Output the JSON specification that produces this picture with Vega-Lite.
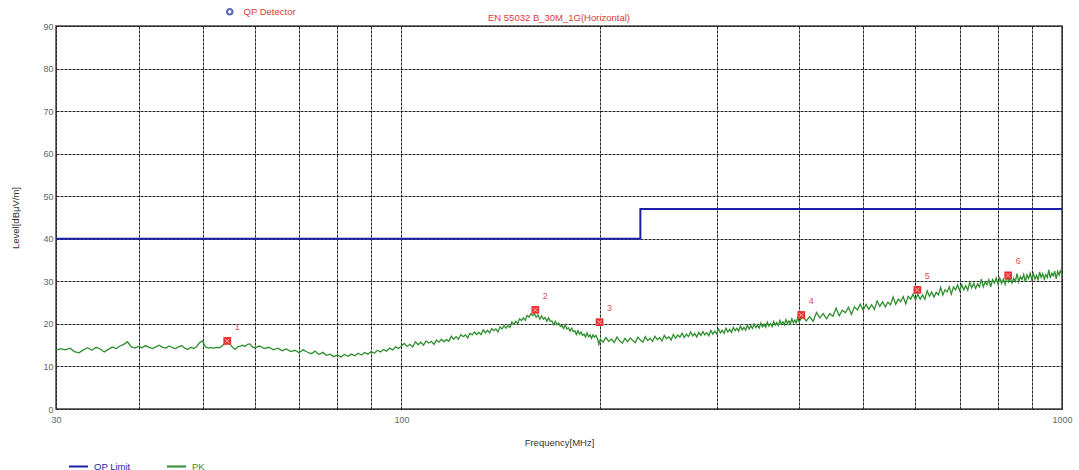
{
  "$schema": "https://vega.github.io/schema/vega-lite/v6.json",
  "width": 1006,
  "height": 383,
  "autosize": {"type": "none"},
  "padding": {"left": 56, "top": 26, "right": 17, "bottom": 61},
  "background": "white",
  "title": {"text": "EN 55032 B_30M_1G(Horizontal)", "fontSize": 9.5, "fontWeight": "normal", "color": "#d83a3a", "anchor": "middle", "offset": 2, "baseline": "bottom", "dy": 27, "font": "Liberation Sans"},
  "datasets": {
    "lim": [{"f": 30, "v": 40}, {"f": 230, "v": 47}, {"f": 1000, "v": 47}],
    "none": [],
    "mk": [
      {"f": 54.5, "v": 16.0, "n": "1"},
      {"f": 159.5, "v": 23.3, "n": "2"},
      {"f": 199.5, "v": 20.4, "n": "3"},
      {"f": 403, "v": 22.1, "n": "4"},
      {"f": 604, "v": 28.0, "n": "5"},
      {"f": 829, "v": 31.4, "n": "6"}
    ],
    "pk": [
      {"f":30,"v":13.8},{"f":30.5,"v":14.2},{"f":31,"v":13.9},{"f":31.5,"v":14.3},{"f":32,"v":13.5},{"f":32.5,"v":13.2},{"f":33,"v":13.9},{"f":33.5,"v":14.4},{"f":34,"v":13.8},{"f":34.5,"v":14.5},
      {"f":35,"v":14.1},{"f":35.5,"v":13.4},{"f":36,"v":14.0},{"f":36.5,"v":14.6},{"f":37,"v":14.2},{"f":37.5,"v":14.8},{"f":38,"v":15.2},{"f":38.5,"v":15.8},{"f":39,"v":14.6},{"f":39.5,"v":14.3},
      {"f":40,"v":14.7},{"f":40.5,"v":14.4},{"f":41,"v":14.9},{"f":41.5,"v":14.5},{"f":42,"v":14.2},{"f":42.5,"v":14.6},{"f":43,"v":15.0},{"f":43.5,"v":14.5},{"f":44,"v":14.3},{"f":44.5,"v":14.8},
      {"f":45,"v":14.4},{"f":45.5,"v":14.2},{"f":46,"v":14.6},{"f":46.5,"v":14.9},{"f":47,"v":14.3},{"f":47.5,"v":14.0},{"f":48,"v":14.5},{"f":48.5,"v":14.2},{"f":49,"v":14.7},{"f":49.5,"v":15.6},
      {"f":50,"v":16.0},{"f":50.5,"v":14.6},{"f":51,"v":14.3},{"f":51.5,"v":14.4},{"f":52,"v":14.3},{"f":52.5,"v":14.5},{"f":53,"v":14.4},{"f":53.5,"v":14.8},{"f":54,"v":15.4},{"f":54.5,"v":15.9},
      {"f":55,"v":15.3},{"f":55.5,"v":14.5},{"f":56,"v":14.0},{"f":56.5,"v":14.6},{"f":57,"v":14.8},{"f":57.5,"v":15.0},{"f":58,"v":14.7},{"f":58.5,"v":15.2},{"f":59,"v":15.3},{"f":59.5,"v":14.6},
      {"f":60,"v":14.4},{"f":61,"v":14.8},{"f":62,"v":14.2},{"f":63,"v":14.5},{"f":64,"v":13.9},{"f":65,"v":14.3},{"f":66,"v":13.7},{"f":67,"v":14.1},{"f":68,"v":13.5},{"f":69,"v":13.8},
      {"f":70,"v":13.2},{"f":71,"v":13.9},{"f":72,"v":13.4},{"f":73,"v":13.0},{"f":74,"v":13.6},{"f":75,"v":12.8},{"f":76,"v":13.3},{"f":77,"v":12.6},{"f":78,"v":12.9},{"f":79,"v":12.3},
      {"f":80,"v":12.7},{"f":81,"v":12.2},{"f":82,"v":12.8},{"f":83,"v":12.4},{"f":84,"v":12.9},{"f":85,"v":12.5},{"f":86,"v":13.1},{"f":87,"v":12.7},{"f":88,"v":13.3},{"f":89,"v":12.9},
      {"f":90,"v":13.5},{"f":91,"v":13.1},{"f":92,"v":13.8},{"f":93,"v":13.4},{"f":94,"v":14.0},{"f":95,"v":13.6},{"f":96,"v":14.3},{"f":97,"v":13.9},{"f":98,"v":14.6},{"f":99,"v":14.2},
      {"f":100,"v":14.8},{"f":101,"v":15.4},{"f":102,"v":14.7},{"f":103,"v":15.2},{"f":104,"v":14.6},{"f":105,"v":15.8},{"f":106,"v":15.1},{"f":107,"v":15.7},{"f":108,"v":15.0},{"f":109,"v":16.0},
      {"f":110,"v":15.5},{"f":111,"v":15.9},{"f":112,"v":15.2},{"f":113,"v":16.2},{"f":114,"v":15.7},{"f":115,"v":16.4},{"f":116,"v":15.8},{"f":117,"v":16.3},{"f":118,"v":15.9},{"f":119,"v":17.1},
      {"f":120,"v":16.4},{"f":121,"v":17.0},{"f":122,"v":16.4},{"f":123,"v":17.5},{"f":124,"v":17.0},{"f":125,"v":17.4},{"f":126,"v":16.7},{"f":127,"v":17.8},{"f":128,"v":17.4},{"f":129,"v":18.1},
      {"f":130,"v":17.5},{"f":131,"v":18.0},{"f":132,"v":17.5},{"f":133,"v":18.6},{"f":134,"v":17.9},{"f":135,"v":18.5},{"f":136,"v":17.9},{"f":137,"v":18.9},{"f":138,"v":18.4},{"f":139,"v":18.8},
      {"f":140,"v":18.1},{"f":141,"v":19.3},{"f":142,"v":18.8},{"f":143,"v":19.6},{"f":144,"v":19.0},{"f":145,"v":19.6},{"f":146,"v":19.2},{"f":147,"v":20.5},{"f":148,"v":19.9},{"f":149,"v":20.6},
      {"f":150,"v":20.1},{"f":151,"v":21.2},{"f":152,"v":20.8},{"f":153,"v":21.4},{"f":154,"v":20.8},{"f":155,"v":22.0},{"f":156,"v":21.6},{"f":157,"v":22.4},{"f":158,"v":22.0},{"f":159,"v":22.3},
      {"f":160,"v":21.6},{"f":161,"v":22.1},{"f":162,"v":21.1},{"f":163,"v":21.9},{"f":164,"v":21.1},{"f":165,"v":21.5},{"f":166,"v":20.6},{"f":167,"v":21.4},{"f":168,"v":20.6},{"f":169,"v":20.7},
      {"f":170,"v":19.8},{"f":171,"v":20.6},{"f":172,"v":19.8},{"f":173,"v":20.2},{"f":174,"v":19.4},{"f":175,"v":19.6},{"f":176,"v":18.9},{"f":177,"v":19.8},{"f":178,"v":18.8},{"f":179,"v":19.1},
      {"f":180,"v":18.3},{"f":181,"v":19.0},{"f":182,"v":18.2},{"f":183,"v":18.4},{"f":184,"v":17.5},{"f":185,"v":18.4},{"f":186,"v":17.6},{"f":187,"v":18.1},{"f":188,"v":17.3},{"f":189,"v":17.6},
      {"f":190,"v":16.9},{"f":191,"v":17.9},{"f":192,"v":17.0},{"f":193,"v":17.4},{"f":194,"v":16.6},{"f":195,"v":17.4},{"f":196,"v":16.9},{"f":197,"v":17.3},{"f":198,"v":16.6},{"f":199,"v":15.2},
      {"f":200,"v":16.4},{"f":202,"v":15.7},{"f":204,"v":16.8},{"f":206,"v":15.9},{"f":208,"v":16.4},{"f":210,"v":15.6},{"f":212,"v":16.9},{"f":214,"v":16.0},{"f":216,"v":15.5},{"f":218,"v":16.6},
      {"f":220,"v":15.8},{"f":222,"v":16.7},{"f":224,"v":16.1},{"f":226,"v":15.6},{"f":228,"v":16.9},{"f":230,"v":16.2},{"f":232,"v":15.7},{"f":234,"v":17.0},{"f":236,"v":16.1},{"f":238,"v":16.6},
      {"f":240,"v":15.9},{"f":242,"v":17.1},{"f":244,"v":16.3},{"f":246,"v":16.8},{"f":248,"v":16.0},{"f":250,"v":17.3},{"f":252,"v":16.5},{"f":254,"v":17.0},{"f":256,"v":16.2},{"f":258,"v":17.5},
      {"f":260,"v":16.6},{"f":262,"v":17.4},{"f":264,"v":16.9},{"f":266,"v":17.8},{"f":268,"v":16.8},{"f":270,"v":17.6},{"f":272,"v":17.0},{"f":274,"v":18.1},{"f":276,"v":17.2},{"f":278,"v":17.7},
      {"f":280,"v":16.9},{"f":282,"v":18.0},{"f":284,"v":17.3},{"f":286,"v":18.2},{"f":288,"v":17.4},{"f":290,"v":17.9},{"f":292,"v":17.2},{"f":294,"v":18.5},{"f":296,"v":17.6},{"f":298,"v":18.3},
      {"f":300,"v":17.7},{"f":302,"v":18.8},{"f":304,"v":17.9},{"f":306,"v":18.5},{"f":308,"v":17.8},{"f":310,"v":19.0},{"f":312,"v":18.1},{"f":314,"v":18.7},{"f":316,"v":18.0},{"f":318,"v":19.2},
      {"f":320,"v":18.4},{"f":322,"v":19.0},{"f":324,"v":18.3},{"f":326,"v":19.5},{"f":328,"v":18.6},{"f":330,"v":19.2},{"f":332,"v":18.5},{"f":334,"v":19.7},{"f":336,"v":18.8},{"f":338,"v":19.6},
      {"f":340,"v":18.9},{"f":342,"v":20.0},{"f":344,"v":19.1},{"f":346,"v":19.7},{"f":348,"v":19.0},{"f":350,"v":20.2},{"f":352,"v":19.3},{"f":354,"v":19.9},{"f":356,"v":19.2},{"f":358,"v":20.4},
      {"f":360,"v":19.5},{"f":362,"v":20.1},{"f":364,"v":19.4},{"f":366,"v":20.6},{"f":368,"v":19.7},{"f":370,"v":20.3},{"f":372,"v":19.6},{"f":374,"v":20.8},{"f":376,"v":19.9},{"f":378,"v":20.5},
      {"f":380,"v":19.8},{"f":382,"v":21.0},{"f":384,"v":20.1},{"f":386,"v":20.7},{"f":388,"v":20.0},{"f":390,"v":21.2},{"f":392,"v":20.3},{"f":394,"v":20.9},{"f":396,"v":20.2},{"f":398,"v":21.4},
      {"f":400,"v":20.5},{"f":405,"v":21.8},{"f":410,"v":20.7},{"f":415,"v":21.7},{"f":420,"v":20.6},{"f":425,"v":22.7},{"f":430,"v":21.4},{"f":435,"v":22.4},{"f":440,"v":21.2},{"f":445,"v":22.4},
      {"f":450,"v":21.8},{"f":455,"v":23.7},{"f":460,"v":21.9},{"f":465,"v":23.2},{"f":470,"v":22.6},{"f":475,"v":23.9},{"f":480,"v":22.2},{"f":485,"v":24.0},{"f":490,"v":23.3},{"f":495,"v":24.6},
      {"f":500,"v":23.2},{"f":505,"v":24.6},{"f":510,"v":23.4},{"f":515,"v":24.5},{"f":520,"v":23.4},{"f":525,"v":25.4},{"f":530,"v":24.1},{"f":535,"v":25.2},{"f":540,"v":24.0},{"f":545,"v":25.1},
      {"f":550,"v":24.5},{"f":555,"v":26.3},{"f":560,"v":24.6},{"f":565,"v":25.8},{"f":570,"v":25.2},{"f":575,"v":26.4},{"f":580,"v":24.7},{"f":585,"v":26.5},{"f":590,"v":25.8},{"f":595,"v":27.0},
      {"f":600,"v":25.6},{"f":605,"v":27.0},{"f":610,"v":25.8},{"f":615,"v":26.8},{"f":620,"v":25.8},{"f":625,"v":27.8},{"f":630,"v":26.5},{"f":635,"v":27.5},{"f":640,"v":26.3},{"f":645,"v":27.4},
      {"f":650,"v":26.8},{"f":655,"v":28.6},{"f":660,"v":26.8},{"f":665,"v":28.0},{"f":670,"v":27.5},{"f":675,"v":28.7},{"f":680,"v":27.0},{"f":685,"v":28.7},{"f":690,"v":28.0},{"f":695,"v":29.2},
      {"f":700,"v":27.8},{"f":705,"v":29.2},{"f":710,"v":28.0},{"f":715,"v":29.0},{"f":720,"v":27.9},{"f":725,"v":29.8},{"f":730,"v":28.5},{"f":735,"v":29.5},{"f":740,"v":28.3},{"f":745,"v":29.4},
      {"f":750,"v":28.7},{"f":755,"v":30.5},{"f":760,"v":28.7},{"f":765,"v":29.9},{"f":770,"v":29.2},{"f":775,"v":30.4},{"f":780,"v":28.7},{"f":785,"v":30.4},{"f":790,"v":29.6},{"f":795,"v":30.8},
      {"f":800,"v":29.4},{"f":805,"v":30.8},{"f":810,"v":29.5},{"f":815,"v":30.5},{"f":820,"v":29.3},{"f":825,"v":31.3},{"f":830,"v":29.9},{"f":835,"v":30.9},{"f":840,"v":29.6},{"f":845,"v":30.7},
      {"f":850,"v":30.0},{"f":855,"v":31.8},{"f":860,"v":29.9},{"f":865,"v":31.1},{"f":870,"v":30.4},{"f":875,"v":31.6},{"f":880,"v":29.9},{"f":885,"v":31.5},{"f":890,"v":30.7},{"f":895,"v":31.9},
      {"f":900,"v":30.4},{"f":905,"v":31.8},{"f":910,"v":30.5},{"f":915,"v":31.4},{"f":920,"v":30.3},{"f":925,"v":32.2},{"f":930,"v":30.9},{"f":935,"v":31.8},{"f":940,"v":30.5},{"f":945,"v":31.6},
      {"f":950,"v":30.9},{"f":955,"v":32.7},{"f":960,"v":30.8},{"f":965,"v":31.9},{"f":970,"v":31.3},{"f":975,"v":32.4},{"f":980,"v":30.6},{"f":985,"v":32.3},{"f":990,"v":31.5},{"f":995,"v":32.7},
      {"f":1000,"v":31.2}
    ]
  },
  "encoding": {
    "x": {
      "field": "f", "type": "quantitative",
      "scale": {"type": "log", "domain": [30, 1000], "nice": false},
      "axis": {
        "values": [30, 40, 50, 60, 70, 80, 90, 100, 200, 300, 400, 500, 600, 700, 800, 900, 1000],
        "format": "d",
        "labelExpr": "datum.value == 30 || datum.value == 100 || datum.value == 1000 ? datum.label : ''",
        "title": "Frequency[MHz]",
        "titlePadding": 13,
        "labelPadding": 6,
        "labelFlush": false,
        "labelOverlap": false
      }
    },
    "y": {
      "field": "v", "type": "quantitative",
      "scale": {"domain": [0, 90], "nice": false},
      "axis": {
        "values": [0, 10, 20, 30, 40, 50, 60, 70, 80, 90],
        "title": "Level[dBμV/m]",
        "titlePadding": 22,
        "labelPadding": 3
      }
    }
  },
  "layer": [
    {
      "data": {"name": "lim"},
      "mark": {"type": "line", "interpolate": "step-after", "strokeWidth": 2},
      "encoding": {
        "color": {
          "datum": "QP Limit", "type": "nominal",
          "scale": {"domain": ["QP Limit", "PK"], "range": ["#1d1fa8", "#2e8f2e"]},
          "legend": {
            "title": null, "orient": "none", "direction": "horizontal",
            "legendX": 12, "legendY": 430,
            "symbolType": "stroke", "symbolSize": 361, "symbolStrokeWidth": 2,
            "labelFontSize": 9.5, "labelOffset": 5, "columnPadding": 32,
            "encode": {"labels": {"update": {"fill": {"scale": "color", "field": "value"}}}}
          }
        }
      }
    },
    {
      "data": {"name": "pk"},
      "mark": {"type": "line", "strokeWidth": 1.3},
      "encoding": {"color": {"datum": "PK", "type": "nominal"}}
    },
    {
      "data": {"name": "none"},
      "mark": {"type": "point", "filled": false, "size": 30, "color": "#1f2a9a", "strokeWidth": 2.2},
      "encoding": {
        "shape": {
          "datum": "QP Detector", "type": "nominal",
          "scale": {"range": ["circle"]},
          "legend": {
            "title": null, "orient": "none", "legendX": 169, "legendY": -19,
            "symbolSize": 30, "symbolStrokeWidth": 2.2, "symbolStrokeColor": "#1f2a9a", "symbolFillColor": "#ffffff",
            "labelFontSize": 9.5, "labelColor": "#d83a3a", "labelOffset": 9
          }
        }
      }
    },
    {
      "data": {"name": "mk"},
      "mark": {"type": "point", "shape": "square", "filled": true, "size": 60, "color": "#e8312f", "opacity": 1}
    },
    {
      "data": {"name": "mk"},
      "mark": {"type": "point", "shape": "M-1,-1L1,1M1,-1L-1,1", "size": 20, "stroke": "#ffc0c0", "strokeWidth": 1, "filled": false, "opacity": 0.9}
    },
    {
      "data": {"name": "mk"},
      "mark": {"type": "text", "dx": 10, "dy": -14, "fontSize": 9, "color": "#e05050"},
      "encoding": {"text": {"field": "n"}}
    }
  ],
  "config": {
    "font": "Liberation Sans",
    "view": {"stroke": "#444", "strokeWidth": 1.5},
    "axis": {
      "grid": true, "gridColor": "#222", "gridDash": [3, 1], "gridWidth": 1, "gridOpacity": 1,
      "domain": false, "ticks": false,
      "labelFontSize": 9, "labelColor": "#666", "labelFont": "Liberation Sans",
      "titleFontSize": 9.5, "titleFontWeight": "normal", "titleColor": "#333", "titleFont": "Liberation Sans"
    },
    "legend": {"labelFont": "Liberation Sans"}
  }
}
